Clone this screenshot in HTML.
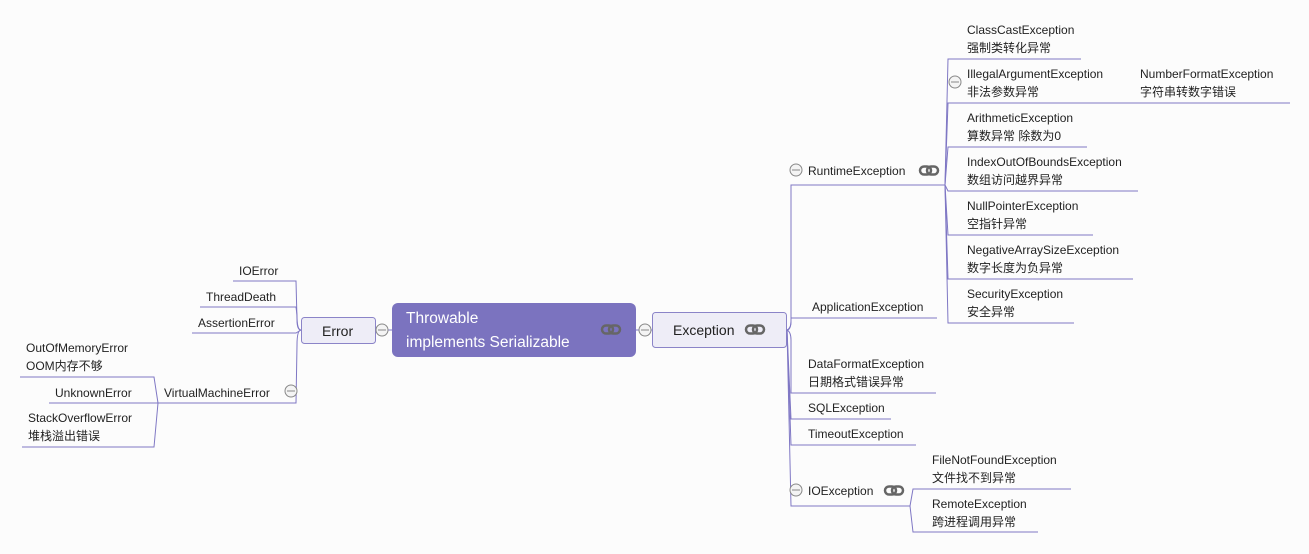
<!DOCTYPE html>
<html><head><meta charset="utf-8"><style>
body{margin:0;width:1309px;height:554px;background:#fcfcfc;position:relative;overflow:hidden;font-family:"Liberation Sans","Noto Sans CJK SC",sans-serif;font-size:12px;color:#222}
.t{position:absolute;line-height:18px;white-space:nowrap;margin-top:1px}
svg{position:absolute;left:0;top:0}
</style></head><body>
<svg width="1309" height="554">
<g fill="none" stroke="#7f77c4" stroke-width="1">
<rect x="392" y="303" width="244" height="54" rx="6" fill="#7b73bf" stroke="none"/>
<rect x="652.5" y="312.5" width="134" height="35" rx="3" fill="#eeedf7" stroke="#8b84c8"/>
<rect x="301.5" y="317.5" width="74" height="26" rx="3" fill="#eeedf7" stroke="#8b84c8"/>
<line x1="636" y1="330" x2="652" y2="330"/>
<line x1="376" y1="330" x2="392" y2="330"/>
<path d="M301,330 Q297,330 297,320 L296,281 L233,281"/>
<path d="M301,330 Q297,330 297,315 L296,307 L200,307"/>
<path d="M301,330 L296,333 L192,333"/>
<path d="M301,330 Q297,330 297,345 L296,403 L158,403"/>
<path d="M158,403 L154,377 L20,377"/>
<line x1="158" y1="403" x2="49" y2="403"/>
<path d="M158,403 L154,447 L22,447"/>
<path d="M787,330 Q791,330 791,320 L791,185 L945,185"/>
<path d="M787,330 Q791,328 791,322 L791,318 L937,318"/>
<path d="M787,330 Q791,332 791,340 L791,393 L936,393"/>
<path d="M787,330 L791,419 L891,419"/>
<path d="M787,330 L791,445 L916,445"/>
<path d="M787,330 L791,506 L910,506"/>
<path d="M945,185 L948,59 L1081,59"/>
<path d="M945,185 L948,103 L1290,103"/>
<path d="M945,185 L948,147 L1087,147"/>
<path d="M945,185 L948,191 L1138,191"/>
<path d="M945,185 L948,235 L1093,235"/>
<path d="M945,185 L948,279 L1133,279"/>
<path d="M945,185 L948,323 L1074,323"/>
<path d="M910,506 L913,489 L1071,489"/>
<path d="M910,506 L913,532 L1038,532"/>
</g>
<g fill="#f4f4f4" stroke="#888" stroke-width="1">
<circle cx="645" cy="330" r="6"/><line x1="641" y1="330" x2="649" y2="330"/>
<circle cx="382" cy="330" r="6"/><line x1="378" y1="330" x2="386" y2="330"/>
<circle cx="291" cy="391" r="6"/><line x1="287" y1="391" x2="295" y2="391"/>
<circle cx="796" cy="170" r="6"/><line x1="792" y1="170" x2="800" y2="170"/>
<circle cx="796" cy="490" r="6"/><line x1="792" y1="490" x2="800" y2="490"/>
<circle cx="955" cy="82" r="6"/><line x1="951" y1="82" x2="959" y2="82"/>
</g>
<g fill="none" stroke="#666" stroke-width="2.5">
<rect x="602" y="325.5" width="11" height="8" rx="4"/><rect x="609" y="325.5" width="11" height="8" rx="4"/>
<rect x="746" y="325.5" width="11" height="8" rx="4"/><rect x="753" y="325.5" width="11" height="8" rx="4"/>
<rect x="920" y="166.5" width="11" height="8" rx="4"/><rect x="927" y="166.5" width="11" height="8" rx="4"/>
<rect x="885" y="486.5" width="11" height="8" rx="4"/><rect x="892" y="486.5" width="11" height="8" rx="4"/>
</g>
</svg>
<div class="t" style="left:406px;top:306px;color:#fff;font-size:15.5px;line-height:24px">Throwable<br>implements Serializable</div>
<div class="t" style="left:673px;top:320px;font-size:14px">Exception</div>
<div class="t" style="left:322px;top:321px;font-size:14px">Error</div>

<div class="t" style="left:239px;top:261px">IOError</div>
<div class="t" style="left:206px;top:287px">ThreadDeath</div>
<div class="t" style="left:198px;top:313px">AssertionError</div>
<div class="t" style="left:164px;top:383px">VirtualMachineError</div>
<div class="t" style="left:26px;top:338px">OutOfMemoryError<br>OOM内存不够</div>
<div class="t" style="left:55px;top:383px">UnknownError</div>
<div class="t" style="left:28px;top:408px">StackOverflowError<br>堆栈溢出错误</div>

<div class="t" style="left:808px;top:161px">RuntimeException</div>
<div class="t" style="left:812px;top:297px">ApplicationException</div>
<div class="t" style="left:808px;top:354px">DataFormatException<br>日期格式错误异常</div>
<div class="t" style="left:808px;top:398px">SQLException</div>
<div class="t" style="left:808px;top:424px">TimeoutException</div>
<div class="t" style="left:808px;top:481px">IOException</div>

<div class="t" style="left:967px;top:20px">ClassCastException<br>强制类转化异常</div>
<div class="t" style="left:967px;top:64px">IllegalArgumentException<br>非法参数异常</div>
<div class="t" style="left:1140px;top:64px">NumberFormatException<br>字符串转数字错误</div>
<div class="t" style="left:967px;top:108px">ArithmeticException<br>算数异常 除数为0</div>
<div class="t" style="left:967px;top:152px">IndexOutOfBoundsException<br>数组访问越界异常</div>
<div class="t" style="left:967px;top:196px">NullPointerException<br>空指针异常</div>
<div class="t" style="left:967px;top:240px">NegativeArraySizeException<br>数字长度为负异常</div>
<div class="t" style="left:967px;top:284px">SecurityException<br>安全异常</div>

<div class="t" style="left:932px;top:450px">FileNotFoundException<br>文件找不到异常</div>
<div class="t" style="left:932px;top:494px">RemoteException<br>跨进程调用异常</div>
</body></html>
